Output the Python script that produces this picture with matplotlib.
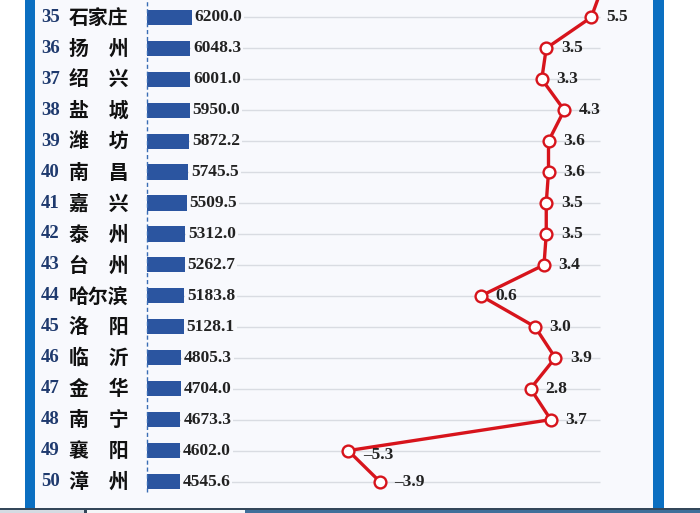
import numpy as np
import matplotlib
matplotlib.use('Agg')
from matplotlib import pyplot as plt
from matplotlib.patches import Rectangle

plt.rcParams['font.family'] = ['Noto Sans CJK SC', 'DejaVu Sans']

ranks = list(range(35, 51))
cities = ['石家庄', '扬州', '绍兴', '盐城', '潍坊', '南昌', '嘉兴', '泰州',
          '台州', '哈尔滨', '洛阳', '临沂', '金华', '南宁', '襄阳', '漳州']
gdp = [6200.0, 6048.3, 6001.0, 5950.0, 5872.2, 5745.5, 5509.5, 5312.0,
       5262.7, 5183.8, 5128.1, 4805.3, 4704.0, 4673.3, 4602.0, 4545.6]
growth = [5.5, 3.5, 3.3, 4.3, 3.6, 3.6, 3.5, 3.5,
          3.4, 0.6, 3.0, 3.9, 2.8, 3.7, -5.3, -3.9]
# rank 34 sits just above the crop, only its line segment shows
growth_34 = 6.0

W, H = 700, 513
fig = plt.figure(figsize=(W / 100, H / 100), dpi=100)
fig.patch.set_facecolor('white')


def px_rect(x0, y0, x1, y1, color):
    fig.patches.append(Rectangle((x0 / W, 1 - y1 / H), (x1 - x0) / W, (y1 - y0) / H,
                                 transform=fig.transFigure, facecolor=color,
                                 edgecolor='none', zorder=-5))


# frame
px_rect(35, 0, 653, 509, '#f8f9fd')
px_rect(25, 0, 35, 509, '#0b6fc1')
px_rect(653, 0, 664, 509, '#0b6fc1')
px_rect(0, 508, 700, 509.5, '#34475a')
px_rect(0, 509.5, 84, 513, '#d5dbe2')
px_rect(84, 509.5, 87, 513, '#34475a')
px_rect(87, 509.5, 245, 513, '#f4f6f8')
px_rect(245, 509.5, 700, 513, '#3f6f9a')

pos = [35 / W, 1 - 509 / H, (653 - 35) / W, 509 / H]
ax1 = fig.add_axes(pos)
ax2 = fig.add_axes(pos)
for ax in (ax1, ax2):
    ax.set_facecolor('none')
    ax.axis('off')
ax1.set_zorder(2)
ax2.set_zorder(3)

# row k centre at 17.3 + (k-35)*30.95 px from the top
row_h = 30.95
ylim = (35 + (509 - 17.3) / row_h, 35 - 17.3 / row_h)

# bars: zero at 146.5 px, 0.00727 px per unit
u = 1 / 0.00727
x0 = 146.5
ax1.set_xlim((35 - x0) * u, (653 - x0) * u)
ax1.set_ylim(*ylim)
ax2.set_xlim((35 - 467.5) / 22.5, (653 - 467.5) / 22.5)
ax2.set_ylim(*ylim)

grid_end = (600 - x0) * u
ax1.hlines(ranks, 0, grid_end, color='#d9dce2', lw=1.0, zorder=0)
ax1.barh(ranks, gdp, height=0.49, color='#2b55a0', zorder=2)
ax1.axvline(0, ymin=(509 - 492) / 509, ymax=1, color='#3a6db5', lw=1.0,
            ls=(0, (3, 2)), zorder=3)

for r, v in zip(ranks, gdp):
    ax1.annotate('{:.1f}'.format(v), (v, r), xytext=(2.0, 0), textcoords='offset points',
                 ha='left', va='center', fontsize=12.5, fontweight='bold',
                 family='Liberation Serif', color='#222222', zorder=4,
                 bbox=dict(boxstyle='square,pad=0.12', fc='#f8f9fd', ec='none'))

tr = ax1.get_yaxis_transform()
for r, c in zip(ranks, cities):
    ax1.text((41 - 35) / 618, r, str(r), transform=tr, ha='left', va='center',
             fontsize=13.5, fontweight='bold', family='Liberation Serif',
             color='#1f3a6e')
    name = c if len(c) == 3 else c[0] + '\u3000' + c[1]
    ax1.text((69 - 35) / 618, r, name, transform=tr, ha='left', va='center',
             fontsize=14.3, fontweight='bold', color='#111111')

line_ranks = [34] + ranks
line_vals = [growth_34] + growth
ax2.plot(line_vals, line_ranks, color='#d7141c', lw=2.4, marker='o', ms=8.5,
         mfc='white', mec='#d7141c', mew=1.7, zorder=5, clip_on=True)

for r, g in zip(ranks, growth):
    txt = '{:.1f}'.format(g).replace('-', '\u2013')
    dy = -3 if g < 0 and r == 49 else 0
    ax2.annotate(txt, (g, r), xytext=(10.5, dy), textcoords='offset points',
                 ha='left', va='center', fontsize=12.5, fontweight='bold',
                 family='Liberation Serif', color='#222222', zorder=6)

fig.savefig('out.png', dpi=100)
